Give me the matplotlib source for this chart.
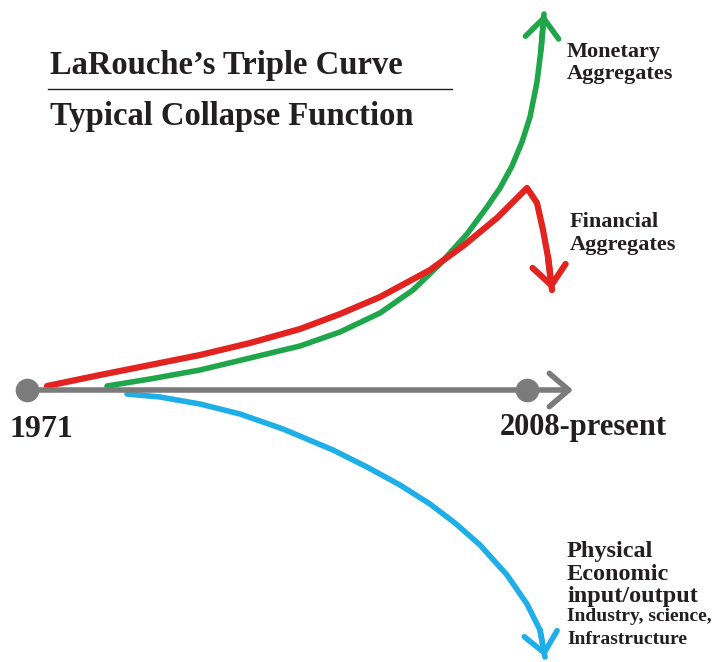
import matplotlib
matplotlib.use('Agg')
import matplotlib.pyplot as plt

# curve traces (pixel coords, y downwards)
green_x = [107, 150, 200, 250, 300, 340, 380, 413, 440, 467, 487, 500, 512, 522, 530, 537, 541, 544]
green_y = [386, 379, 370, 358, 346, 332, 313, 290, 264, 234, 207, 188, 166, 142, 117, 82, 50, 14]
red_x = [47, 100, 150, 200, 250, 300, 340, 380, 430, 463, 497, 527, 537, 543, 548, 552]
red_y = [386, 375, 365, 355, 343, 329, 314, 297, 270, 246, 218, 188, 203, 230, 257, 290]
blue_x = [127, 160, 200, 240, 283, 333, 367, 400, 430, 455, 480, 507, 527, 540, 545]
blue_y = [394, 397, 404, 414, 429, 450, 467, 485, 504, 523, 545, 575, 604, 630, 657]
axis_x = [27, 573]
axis_y = [390, 390]
dots_x = [27, 527]
dots_y = [390, 390]

GREEN = '#1fa64a'
RED = '#e2231f'
BLUE = '#1eaee8'
GRAY = '#7b7b7b'
INK = '#231f20'

plt.rcParams['font.family'] = ['Liberation Serif', 'DejaVu Serif']

fig = plt.figure(figsize=(7.15, 6.62), dpi=100)
ax = fig.add_axes([0, 0, 1, 1])
ax.set_xlim(0, 715)
ax.set_ylim(662, 0)
ax.axis('off')


def curve(xs, ys, color, lw):
    ax.plot(xs, ys, color=color, lw=lw, solid_capstyle='round',
            solid_joinstyle='round', zorder=2)
    ax.annotate('', xy=(xs[-1], ys[-1]), xytext=(xs[-2], ys[-2]),
                arrowprops=dict(arrowstyle='->,head_length=0.7,head_width=0.6',
                                color=color, lw=lw, shrinkA=0, shrinkB=0,
                                mutation_scale=20),
                zorder=2)


curve(blue_x, blue_y, BLUE, 4)
curve(green_x, green_y, GREEN, 4)
curve(red_x, red_y, RED, 4.5)

# time axis
ax.annotate('', xy=(axis_x[1], axis_y[1]), xytext=(axis_x[0], axis_y[0]),
            arrowprops=dict(arrowstyle='->,head_length=0.7,head_width=0.6',
                            color=GRAY, lw=4, shrinkA=0, shrinkB=0,
                            mutation_scale=20),
            zorder=3)
ax.plot(dots_x, dots_y, 'o', color=GRAY, ms=16, zorder=4)

bold = dict(fontweight='bold', color=INK, va='baseline', ha='left')

# titles
ax.text(50, 74, 'LaRouche\u2019s Triple Curve', fontsize=23.5, **bold)
ax.plot([48, 452], [89, 89], color=INK, lw=1)
ax.text(50, 125, 'Typical Collapse Function', fontsize=23.5, **bold)

# labels
ax.text(567, 57, 'Monetary', fontsize=16, **bold)
ax.text(567, 79, 'Aggregates', fontsize=16, **bold)
ax.text(570, 227, 'Financial', fontsize=16, **bold)
ax.text(570, 250, 'Aggregates', fontsize=16, **bold)
ax.text(10, 437, '1971', fontsize=23, **bold)
ax.text(500, 435, '2008-present', fontsize=22, **bold)
ax.text(567, 557, 'Physical', fontsize=17.5, **bold)
ax.text(567, 580, 'Economic', fontsize=17.5, **bold)
ax.text(567, 602, 'input/output', fontsize=17.5, **bold)
ax.text(567, 621, 'Industry, science,', fontsize=14, **bold)
ax.text(567, 644, 'Infrastructure', fontsize=14, **bold)

fig.savefig('out.png', dpi=100)
